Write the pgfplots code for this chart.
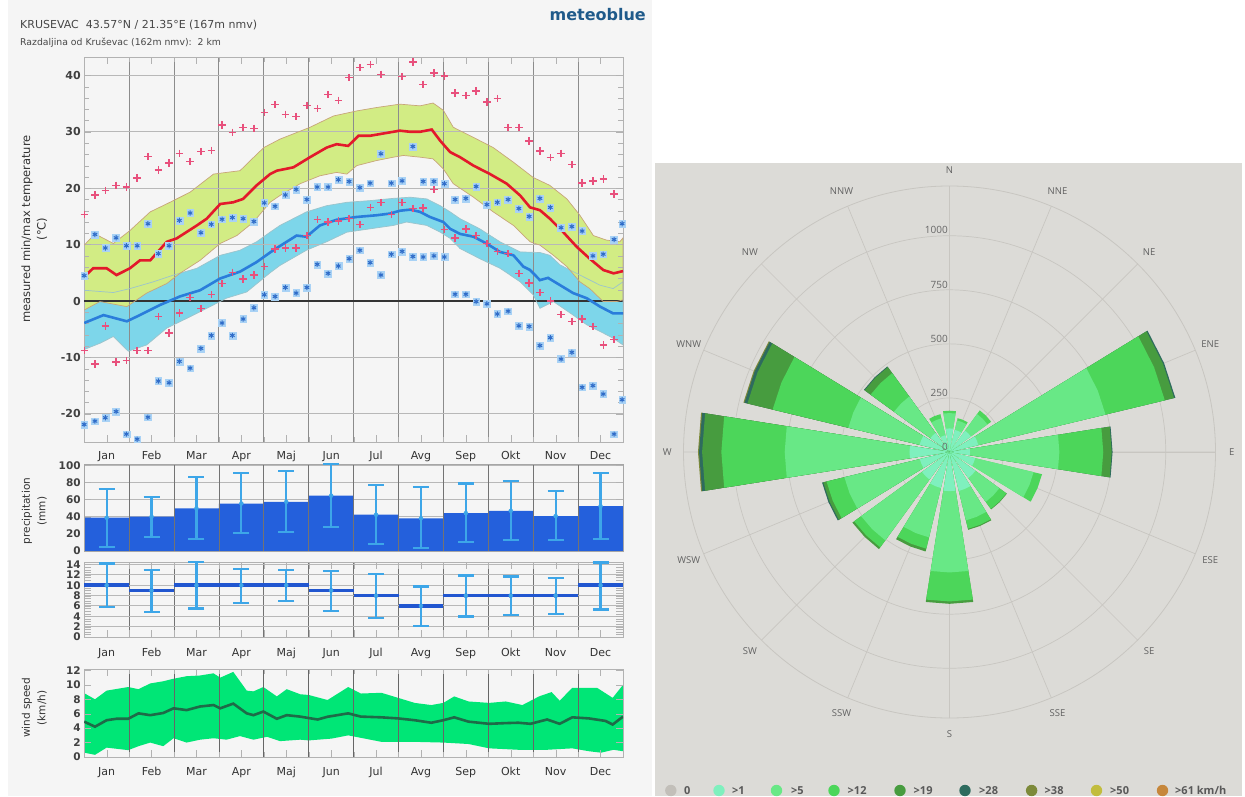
\documentclass[border=0pt]{standalone}
\usepackage{fontspec}
\setmainfont{DejaVu Sans}
\newfontfamily\condf[FakeStretch=0.88]{DejaVu Sans}
\newfontfamily\rosef{Open Sans}
\usepackage{pgfplots}
\pgfplotsset{compat=1.18}
\usepackage{pgfplotstable}
\usepgfplotslibrary{polar}

\definecolor{bgleft}{HTML}{F5F5F5}
\definecolor{bgrose}{HTML}{DCDBD7}
\definecolor{rgrid}{HTML}{C8C6C1}
\definecolor{grband}{HTML}{D2EC84}
\definecolor{gredge}{HTML}{C8A57A}
\definecolor{cyband}{HTML}{7DD6EA}
\definecolor{cyedge}{HTML}{9CC4CC}
\definecolor{redl}{HTML}{E3192B}
\definecolor{bluel}{HTML}{2A7DDB}
\definecolor{redm}{HTML}{E8507C}
\definecolor{bluem}{HTML}{2F6CC8}
\definecolor{bluemf}{HTML}{A9D2F5}
\definecolor{prbar}{HTML}{2460DC}
\definecolor{prerr}{HTML}{3DA6E8}
\definecolor{dayl}{HTML}{2156D0}
\definecolor{windf}{HTML}{00E676}
\definecolor{windl}{HTML}{1E6B48}
\definecolor{mblue}{HTML}{1F5A8A}
\definecolor{c0}{HTML}{C2BFB9}
\definecolor{c1}{HTML}{7FF0BE}
\definecolor{c5}{HTML}{68E886}
\definecolor{c12}{HTML}{4CD65A}
\definecolor{c19}{HTML}{479C3F}
\definecolor{c28}{HTML}{2E6B5E}
\definecolor{c38}{HTML}{7D8A3A}
\definecolor{c50}{HTML}{C2BD3E}
\definecolor{c61}{HTML}{C6873B}

\pgfplotsset{
  /pgf/number format/assume math mode=true,
  lp/.style={anchor=south west, scale only axis, width=538.8pt, xmin=0, xmax=12,
    axis line style={draw=black!30}, tick style={draw=black!30},
    major tick length=7pt, minor tick length=5pt,
    every tick label/.append style={font=\bfseries\fontsize{10.5}{12}\selectfont, text=black!75},
    major grid style={draw=black!28, line width=1pt},
    minor grid style={draw=black!45, line width=0.9pt}},
  months/.style={xtick={0.5,1.5,...,11.5},
    xticklabels={Jan,Feb,Mar,Apr,Maj,Jun,Jul,Avg,Sep,Okt,Nov,Dec},
    minor xtick={0,1,...,12}, xminorgrids=true,
    xticklabel style={font=\fontsize{11}{13}\selectfont, text=black!80, text height=8pt, text depth=2pt, yshift=#1}},
}

\newcommand\rw[3]{%
  \pgfmathsetmacro\rwa{#2-9}%
  \pgfmathsetmacro\rwb{#2+9}%
  \edef\rwcmd{\noexpand\addplot[fill=#1,draw=none] coordinates {(\rwa,0) (\rwa,#3) (#2,#3) (\rwb,#3) (\rwb,0)};}%
  \rwcmd}

% weekly extremes
\pgfplotstableread{
x rmax rmin bmax bmin
0.00 15.3 -8.8 4.5 -21.9
0.24 18.8 -11.2 11.8 -21.3
0.47 19.6 -4.4 9.4 -20.7
0.71 20.5 -10.8 11.2 -19.6
0.94 20.2 -10.6 9.8 -23.6
1.18 21.8 -8.8 9.8 -24.5
1.42 25.6 -8.8 13.7 -20.6
1.65 23.2 -2.8 8.4 -14.2
1.89 24.5 -5.7 9.8 -14.5
2.12 26.2 -2.1 14.3 -10.7
2.36 24.7 0.6 15.6 -11.9
2.60 26.5 -1.3 12.1 -8.4
2.83 26.7 1.1 13.6 -6.1
3.07 31.2 3.1 14.5 -3.9
3.30 29.9 5.1 14.8 -6.1
3.54 30.8 3.9 14.6 -3.2
3.78 30.6 4.6 14.1 -1.2
4.01 33.4 6.1 17.4 1.1
4.25 34.8 9.2 16.8 0.8
4.48 33.1 9.4 18.8 2.4
4.72 32.7 9.4 19.8 1.4
4.96 34.7 11.6 18.0 2.4
5.19 34.1 14.5 20.2 6.5
5.43 36.6 14.0 20.2 4.9
5.66 35.6 14.2 21.5 6.2
5.90 39.6 14.6 21.2 7.5
6.14 41.4 13.6 20.1 9.0
6.37 41.9 16.6 20.9 6.8
6.61 40.2 17.5 26.1 4.6
6.84 43.6 15.3 20.9 8.3
7.08 39.8 17.5 21.3 8.8
7.32 42.4 16.4 27.4 7.9
7.55 38.4 16.5 21.2 7.8
7.79 40.4 19.8 21.2 8.0
8.02 39.9 12.7 20.8 7.8
8.26 36.9 11.2 18.0 1.2
8.50 36.4 12.8 18.2 1.2
8.73 37.2 11.6 20.3 -0.1
8.97 35.3 10.2 17.1 -0.5
9.20 35.9 8.8 17.5 -2.3
9.44 30.8 8.4 18.0 -1.8
9.68 30.8 4.9 16.4 -4.4
9.91 28.4 3.2 15.0 -4.5
10.15 26.6 1.5 18.2 -7.9
10.38 25.4 0.0 16.6 -6.5
10.62 26.2 -2.4 13.0 -10.3
10.86 24.2 -3.6 13.2 -9.1
11.09 20.9 -3.2 12.4 -15.3
11.33 21.3 -4.5 8.0 -15.0
11.56 21.6 -7.8 8.3 -16.5
11.80 19.0 -6.8 10.9 -23.6
11.98 nan nan 13.7 -17.5
}\tscat

% mean daily max
\pgfplotstableread{
x y
0 4.3
0.2 5.8
0.5 5.8
0.72 4.6
1.02 5.8
1.24 7.2
1.47 7.2
1.84 10.5
2.06 11.1
2.51 13.4
2.73 14.6
3.03 17.2
3.32 17.5
3.54 18.1
3.84 20.5
4.14 22.5
4.29 23.1
4.66 23.7
5.03 25.5
5.4 27.2
5.62 27.8
5.88 27.5
6.11 29.3
6.37 29.3
6.59 29.6
6.81 29.9
7.03 30.2
7.26 30.0
7.48 30.0
7.74 30.4
7.93 28.4
8.15 26.4
8.37 25.5
8.67 24.0
9.04 22.5
9.41 20.8
9.71 18.7
9.93 16.6
10.15 16.1
10.37 14.6
10.67 12.2
10.97 9.6
11.26 7.5
11.56 5.5
11.79 4.9
12.0 5.3
}\tred

% band of daily max: upper edge, then lower edge backwards
\pgfplotstableread{
x y
0 9.9
0.24 11.9
0.65 10.2
1.02 12.5
1.47 15.8
1.91 17.5
2.36 19.3
2.88 22.5
3.17 22.8
3.47 23.1
3.7 24.9
4.0 27.2
4.36 28.7
5.03 30.8
5.55 32.8
6.07 33.7
6.51 34.3
7.03 34.9
7.48 34.6
7.77 35.1
8.0 33.8
8.22 30.8
8.67 29.0
9.11 27.2
9.56 24.6
10.0 21.9
10.37 20.5
10.75 18.1
11.04 15.2
11.34 11.6
11.63 10.8
11.93 10.5
12.0 11.2
12.0 0.2
11.86 -0.1
11.56 -0.1
11.26 2.2
11.04 3.4
10.75 6.1
10.45 8.1
10.15 9.9
9.93 10.5
9.56 13.4
9.11 15.8
8.67 18.4
8.22 20.8
8.0 23.4
7.77 25.2
7.48 25.5
7.11 25.8
6.89 25.5
6.51 24.9
6.07 24.0
5.85 22.5
5.62 22.8
5.25 22.2
4.81 20.8
4.36 18.7
4.14 17.5
3.77 14.0
3.4 11.6
3.03 10.2
2.58 7.2
2.13 4.9
1.84 3.1
1.39 1.4
0.95 -1.0
0.35 -0.1
0 -1.6
}\tgr

% mean daily min
\pgfplotstableread{
x y
0 -3.9
0.43 -2.5
0.95 -3.6
1.24 -2.5
1.69 -0.7
2.13 0.8
2.58 1.9
3.03 4.0
3.47 5.2
3.84 6.9
4.14 8.6
4.29 9.4
4.73 11.6
4.95 11.4
5.25 13.4
5.62 14.4
6.07 14.9
6.51 15.2
6.81 15.5
7.03 16.0
7.26 16.2
7.48 15.8
7.7 14.9
8.0 14.0
8.15 12.8
8.37 11.9
8.67 11.4
8.96 10.2
9.26 8.7
9.56 8.1
9.78 6.1
9.93 5.5
10.15 3.7
10.33 4.1
10.6 2.8
10.89 1.4
11.19 0.5
11.49 -1.0
11.78 -2.2
12.0 -2.2
}\tblue

% band of daily min: upper edge, then lower edge backwards
\pgfplotstableread{
x y
0 1.9
0.65 1.5
1.02 2.2
1.54 3.4
1.99 4.6
2.51 5.8
3.03 8.1
3.47 9.0
3.84 10.5
4.14 12.2
4.36 13.4
4.95 15.8
5.4 16.9
5.85 17.5
6.37 17.8
6.89 18.2
7.26 18.4
7.63 18.1
7.93 16.9
8.15 15.8
8.37 14.6
8.81 12.8
9.26 10.5
9.71 8.7
10.15 8.6
10.37 8.1
10.6 6.4
10.89 5.2
11.19 4.0
11.49 2.8
11.78 2.2
12.0 3.4
12.0 -7.8
11.78 -6.6
11.49 -5.4
11.19 -4.2
10.89 -2.5
10.45 -0.1
10.15 -1.3
10.0 1.1
9.71 3.4
9.26 5.8
8.81 7.5
8.37 9.3
8.15 11.1
7.93 12.2
7.63 13.4
7.18 14.0
6.89 13.4
6.37 12.8
5.85 12.2
5.4 10.5
4.95 9.0
4.36 6.3
4.14 5.0
3.62 1.6
3.17 0.5
2.73 -1.3
2.28 -3.1
1.84 -4.8
1.39 -7.8
0.98 -8.9
0.65 -6.3
0.35 -7.5
0 -8.6
}\tcy

\pgfplotstableread{
x m hi lo
0.5 38.8 72.3 5.0
1.5 40.0 62.7 16.5
2.5 49.6 86.2 13.8
3.5 55.4 90.8 20.8
4.5 57.3 93.5 22.3
5.5 64.6 101.5 28.1
6.5 42.3 77.3 8.1
7.5 38.1 74.2 3.5
8.5 44.2 78.8 10.8
9.5 46.9 81.2 13.1
10.5 40.8 70.0 13.1
11.5 52.3 91.2 13.8
}\tprec

\pgfplotstableread{
x m hi lo
0.5 10 14.2 5.8
1.5 9 13.0 4.85
2.5 10 14.5 5.5
3.5 10 13.2 6.6
4.5 10 12.9 7.0
5.5 9 12.7 5.1
6.5 8 12.2 3.7
7.5 6 9.75 2.1
8.5 8 11.9 3.95
9.5 8 11.7 4.2
10.5 8 11.4 4.5
11.5 10 14.4 5.3
}\tdays

% wind band: upper edge, then lower edge backwards
\pgfplotstableread{
x y
0 8.85
0.24 8.0
0.5 9.2
0.98 9.7
1.21 9.4
1.47 10.2
1.76 10.5
1.99 10.85
2.28 11.2
2.58 11.3
2.88 11.6
3.03 11.0
3.32 11.8
3.62 9.2
3.77 9.1
3.99 9.7
4.29 8.4
4.51 9.4
4.81 8.7
5.0 8.6
5.42 7.9
5.88 9.7
6.16 8.8
6.62 8.9
6.99 8.2
7.36 7.5
7.73 7.2
8.0 7.5
8.24 8.4
8.56 7.7
9.02 7.5
9.39 7.7
9.76 7.2
10.13 8.4
10.41 9.0
10.59 7.8
10.87 9.6
11.42 9.6
11.77 8.2
12.0 10.0
12.0 0.8
11.79 1.0
11.51 0.6
11.24 0.8
10.87 1.2
10.31 1.0
9.67 1.0
9.02 1.2
8.56 1.8
8.0 2.0
7.36 2.1
6.62 2.1
6.25 2.55
5.88 3.0
5.51 2.55
5.0 2.3
4.81 2.4
4.36 2.2
4.07 2.8
3.77 2.4
3.47 2.9
3.17 2.4
2.88 2.6
2.58 2.4
2.28 2.0
1.99 2.6
1.76 1.5
1.47 2.0
1.21 1.5
0.98 0.95
0.5 1.3
0.24 0.3
0 0.6
}\tw

\pgfplotstableread{
x y
0 4.9
0.24 4.2
0.5 5.1
0.72 5.3
0.98 5.3
1.21 6.05
1.47 5.8
1.76 6.1
1.99 6.75
2.28 6.5
2.58 7.0
2.88 7.2
3.03 6.75
3.32 7.4
3.62 6.05
3.77 5.8
3.99 6.3
4.29 5.3
4.51 5.8
4.81 5.6
5.0 5.4
5.2 5.2
5.42 5.58
5.88 6.05
6.16 5.6
6.62 5.5
6.99 5.35
7.36 5.1
7.73 4.75
8.0 5.1
8.24 5.5
8.56 4.9
9.02 4.6
9.39 4.7
9.67 4.75
9.94 4.6
10.31 5.2
10.59 4.6
10.87 5.5
11.24 5.35
11.61 5.0
11.77 4.5
12.0 5.6
}\twm

\begin{document}
\begin{tikzpicture}
\path[use as bounding box] (0pt,0pt) rectangle (1245pt,796pt);
\fill[white] (0pt,0pt) rectangle (1245pt,796pt);
\fill[bgleft] (8pt,0pt) rectangle (652pt,796pt);
\fill[bgrose] (655pt,0pt) rectangle (1242pt,633pt);

% header
\node[anchor=west, inner sep=0pt, font=\fontsize{11}{13}\selectfont, text=black!72] at (20pt,771pt) {KRUSEVAC\ \ 43.57°N / 21.35°E (167m nmv)};
\node[anchor=west, inner sep=0pt, font=\fontsize{9.3}{11}\selectfont, text=black!72] at (20pt,753.5pt) {Razdaljina od Kruševac (162m nmv):\ \ 2 km};
\node[anchor=east, inner sep=0pt, font=\bfseries\fontsize{16}{18}\selectfont, text=mblue] at (646pt,781pt) {meteoblue};

% y labels
\node[rotate=90, font=\fontsize{11.5}{13}\selectfont, text=black!80] at (27pt,567pt) {measured min/max temperature};
\node[rotate=90, font=\fontsize{11.5}{13}\selectfont, text=black!80] at (42pt,567pt) {(°C)};
\node[rotate=90, font=\fontsize{10.5}{12}\selectfont, text=black!80] at (27pt,285pt) {precipitation};
\node[rotate=90, font=\fontsize{10.5}{12}\selectfont, text=black!80] at (42pt,285pt) {(mm)};
\node[rotate=90, font=\fontsize{10.5}{12}\selectfont, text=black!80] at (27pt,88pt) {wind speed};
\node[rotate=90, font=\fontsize{10.5}{12}\selectfont, text=black!80] at (42pt,88pt) {(km/h)};

% ---------- temperature: bands ----------
\begin{axis}[lp, at={(84.2pt,354pt)}, height=385pt, ymin=-25, ymax=43.26, hide axis]
\addplot[fill=cyband, draw=none] table {\tcy};
\addplot[fill=grband, draw=none] table {\tgr};
\end{axis}
% ---------- temperature: grid, lines, marks ----------
\begin{axis}[lp, months=-6pt, at={(84.2pt,354pt)}, height=385pt, ymin=-25, ymax=43.26,
  ytick={-20,-10,...,40}, ymajorgrids=true, minor y tick num=4,
  yticklabel style={font=\bfseries\fontsize{11}{13}\selectfont},
  extra y ticks={0}, extra y tick labels={},
  extra y tick style={grid=major, major grid style={draw=black!80, line width=1.8pt}, tick style={draw=none}}]
\addplot[cyedge, line width=0.7pt] table {\tcy};
\addplot[gredge, line width=0.7pt] table {\tgr};
\addplot[redl, line width=2.6pt] table {\tred};
\addplot[bluel, line width=2.6pt] table {\tblue};
\addplot[only marks, mark=+, mark size=3.7pt, redm, line width=1.4pt] table[x=x,y=rmax] {\tscat};
\addplot[only marks, mark=+, mark size=3.7pt, redm, line width=1.4pt] table[x=x,y=rmin] {\tscat};
\addplot[only marks, mark=square*, mark size=3.4pt, mark options={draw=bluemf, fill=bluemf}] table[x=x,y=bmax] {\tscat};
\addplot[only marks, mark=square*, mark size=3.4pt, mark options={draw=bluemf, fill=bluemf}] table[x=x,y=bmin] {\tscat};
\addplot[only marks, mark=asterisk, mark size=2.6pt, bluem, line width=1pt] table[x=x,y=bmax] {\tscat};
\addplot[only marks, mark=asterisk, mark size=2.6pt, bluem, line width=1pt] table[x=x,y=bmin] {\tscat};
\end{axis}

% ---------- precipitation ----------
\begin{axis}[lp, at={(84.2pt,245pt)}, height=87pt, ymin=0, ymax=101.5,
  xtick=\empty, ytick={0,20,...,100}, ymajorgrids=true]
\addplot[ybar, bar width=1, fill=prbar, draw=none] table[x=x,y=m] {\tprec};
\end{axis}
\begin{axis}[lp, at={(84.2pt,245pt)}, height=87pt, ymin=0, ymax=101.5, clip=false,
  xtick={0,1,...,12}, xticklabels={}, xmajorgrids=true, major x grid style={draw=black!55, line width=0.8pt},
  ytick=\empty, axis line style={draw=black!35}, major tick length=0pt]
\addplot[prerr, only marks, mark=none, error bars/.cd, y dir=both, y explicit,
  error bar style={prerr, line width=2.2pt},
  error mark options={prerr, line width=2.2pt, mark size=8pt, rotate=90}]
  table[x=x, y=m, y error plus expr=\thisrow{hi}-\thisrow{m}, y error minus expr=\thisrow{m}-\thisrow{lo}] {\tprec};
\end{axis}

% ---------- days ----------
\begin{axis}[lp, months=-8.3pt, at={(84.2pt,159pt)}, height=75pt, ymin=0, ymax=14.5, clip=false,
  ytick={0,2,...,14}, ymajorgrids=true, minor y tick num=3, minor tick length=7pt,
  minor grid style={draw=black!55, line width=0.8pt}]
\addplot[dayl, only marks, mark=none, error bars/.cd, x dir=both, x fixed=0.5, error mark=none,
  error bar style={dayl, line width=3.6pt}] table[x=x,y=m] {\tdays};
\addplot[prerr, only marks, mark=none, error bars/.cd, y dir=both, y explicit,
  error bar style={prerr, line width=2.2pt},
  error mark options={prerr, line width=2.2pt, mark size=8pt, rotate=90}]
  table[x=x, y=m, y error plus expr=\thisrow{hi}-\thisrow{m}, y error minus expr=\thisrow{m}-\thisrow{lo}] {\tdays};
\end{axis}

% ---------- wind speed ----------
\begin{axis}[lp, at={(84.2pt,39pt)}, height=88pt, ymin=0, ymax=12.2, hide axis]
\addplot[fill=windf, draw=none] table {\tw};
\end{axis}
\begin{axis}[lp, months=-7.3pt, at={(84.2pt,39pt)}, height=88pt, ymin=0, ymax=12.2,
  minor grid style={draw=black!60, line width=0.8pt},
  ytick={0,2,...,12}]
\addplot[windl, line width=2.6pt] table {\twm};
\end{axis}

% ---------- wind rose ----------
\begin{polaraxis}[at={(949.5pt,344pt)}, anchor=center, scale only axis, width=532pt, height=532pt,
  xmin=0, xmax=360, ymin=0, ymax=1230, clip=false,
  xtick={0,22.5,...,337.5}, xticklabels={}, ytick={250,500,750,1000}, yticklabels={},
  xmajorgrids=true, ymajorgrids=true, major grid style={draw=rgrid, line width=0.7pt},
  axis line style={draw=rgrid, line width=0.8pt}, tick style={draw=none}]
% E
\rw{c28}{0}{754}\rw{c19}{0}{750}\rw{c12}{0}{711}\rw{c5}{0}{508}\rw{c1}{0}{95}
% ENE
\rw{c28}{22.5}{1074}\rw{c19}{22.5}{1068}\rw{c12}{22.5}{1024}\rw{c5}{22.5}{742}\rw{c1}{22.5}{137}
% NE
\rw{c12}{45}{238}\rw{c5}{45}{217}\rw{c1}{45}{122}
% NNE
\rw{c12}{67.5}{161}\rw{c5}{67.5}{150}\rw{c1}{67.5}{105}
% N
\rw{c12}{90}{191}\rw{c5}{90}{180}\rw{c1}{90}{109}
% NNW
\rw{c12}{112.5}{180}\rw{c5}{112.5}{160}\rw{c1}{112.5}{80}
% NW
\rw{c28}{135}{489}\rw{c19}{135}{485}\rw{c12}{135}{451}\rw{c5}{135}{317}\rw{c1}{135}{109}
% WNW
\rw{c38}{157.5}{980}\rw{c28}{157.5}{975}\rw{c19}{157.5}{961}\rw{c12}{157.5}{841}\rw{c5}{157.5}{481}\rw{c1}{157.5}{142}
% W
\rw{c38}{180}{1163}\rw{c28}{180}{1158}\rw{c19}{180}{1144}\rw{c12}{180}{1055}\rw{c5}{180}{762}\rw{c1}{180}{185}
% WSW
\rw{c28}{202.5}{606}\rw{c19}{202.5}{600}\rw{c12}{202.5}{585}\rw{c5}{202.5}{500}\rw{c1}{202.5}{141}
% SW
\rw{c19}{225}{555}\rw{c12}{225}{545}\rw{c5}{225}{505}\rw{c1}{225}{157}
% SSW
\rw{c19}{247.5}{473}\rw{c12}{247.5}{460}\rw{c5}{247.5}{406}\rw{c1}{247.5}{171}
% S
\rw{c19}{270}{702}\rw{c12}{270}{691}\rw{c5}{270}{557}\rw{c1}{270}{181}
% SSE
\rw{c19}{292.5}{370}\rw{c12}{292.5}{365}\rw{c5}{292.5}{325}\rw{c1}{292.5}{185}
% SE
\rw{c19}{315}{328}\rw{c12}{315}{325}\rw{c5}{315}{285}\rw{c1}{315}{148}
% ESE
\rw{c12}{337.5}{440}\rw{c5}{337.5}{400}\rw{c1}{337.5}{122}

\foreach \r in {0,250,500,750,1000}{
  \edef\tmp{\noexpand\node[anchor=south east, inner sep=1.5pt, font=\noexpand\rosef\noexpand\fontsize{10}{12}\noexpand\selectfont, text=black!60] at (axis cs:90,\r) {\r};}\tmp}
\foreach \a/\l in {90/N,67.5/NNE,45/NE,22.5/ENE,0/E,337.5/ESE,315/SE,292.5/SSE,270/S,247.5/SSW,225/SW,202.5/WSW,180/W,157.5/WNW,135/NW,112.5/NNW}{
  \edef\tmp{\noexpand\node[font=\noexpand\rosef\noexpand\fontsize{9.5}{11}\noexpand\selectfont, text=black!62] at (axis cs:\a,1305) {\l};}\tmp}
\end{polaraxis}

% rose legend
\foreach \cx/\cc/\tx/\lbl in {670.8/c0/684/0, 719/c1/732/{>1}, 776.5/c5/791/{>5}, 834/c12/847.5/{>12}, 900/c19/913.5/{>19}, 965/c28/979/{>28}, 1031.6/c38/1044.5/{>38}, 1096.5/c50/1110/{>50}, 1162.5/c61/1175/{>61 km/h}}{
  \fill[\cc] (\cx pt,5.5pt) circle (5.7pt);
  \node[anchor=west, inner sep=0pt, font=\rosef\bfseries\fontsize{11}{12}\selectfont, text=black!65] at (\tx pt,5.5pt) {\lbl};
}
\end{tikzpicture}
\end{document}
